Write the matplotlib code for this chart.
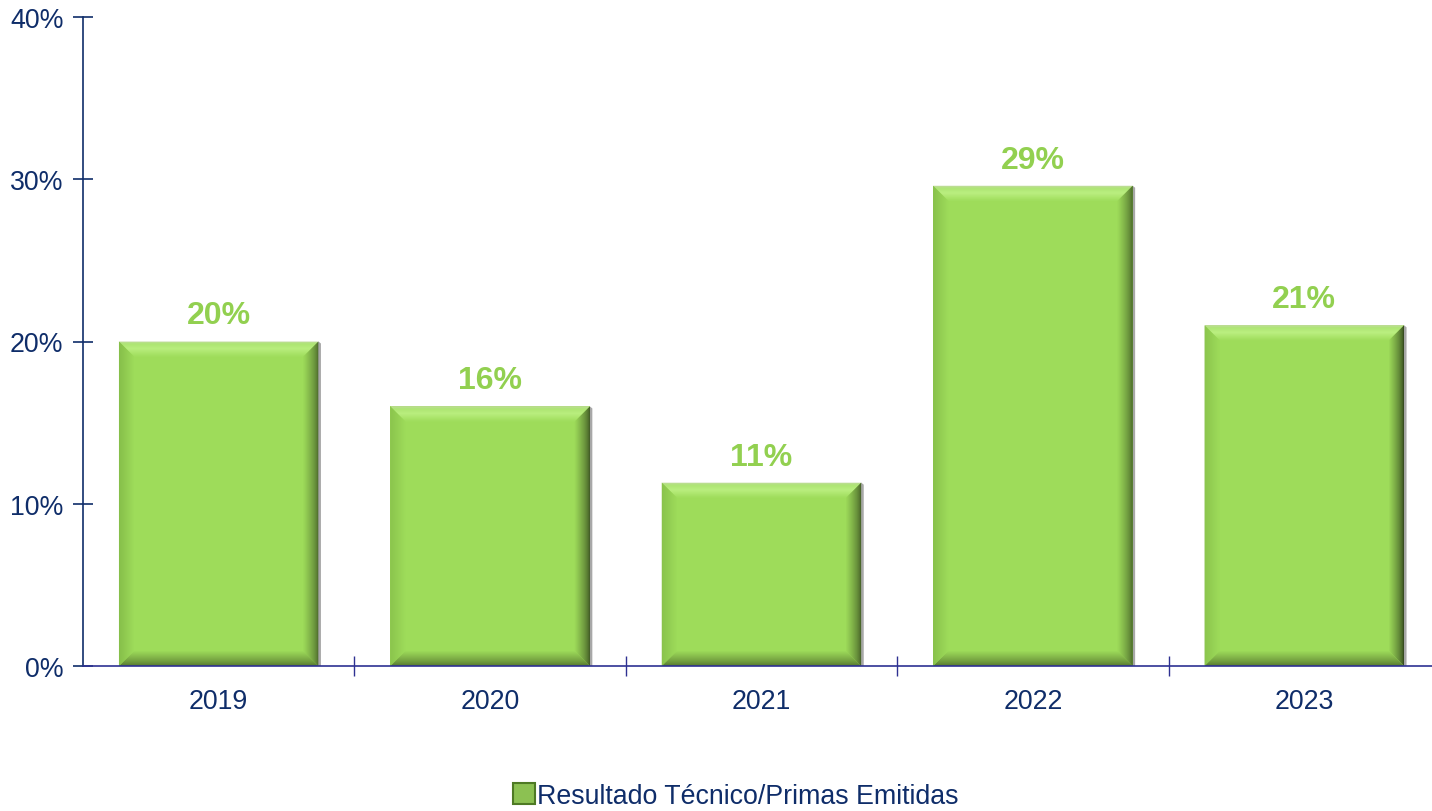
import math
import numpy as np
import matplotlib
matplotlib.use('Agg')
import matplotlib.pyplot as plt
from matplotlib.patches import Polygon, Patch
from matplotlib.ticker import FuncFormatter

plt.rcParams['font.family'] = ['Liberation Sans', 'DejaVu Sans']

# technical result over written premiums, in percent
years = ['2019', '2020', '2021', '2022', '2023']
ratio = [20.0, 16.0, 11.3, 29.6, 21.0]
series_name = 'Resultado Técnico/Primas Emitidas'

navy = '#0F2D69'
axis_blue = '#2E3192'
green = '#9EDC5A'
label_green = '#92D050'

fig = plt.figure(figsize=(14.32, 8.12), dpi=100)
ax = fig.add_axes([83 / 1432, 1 - 667 / 812, 1357 / 1432, 649 / 812])

x = np.arange(len(years))
width = 0.735
bars = ax.bar(x, ratio, width=width, color=green, zorder=2)

ax.set_xlim(-0.5, len(years) - 0.5)
ax.set_ylim(0, 40)


def mix(c1, c2, t):
    a = np.array(matplotlib.colors.to_rgb(c1))
    b = np.array(matplotlib.colors.to_rgb(c2))
    t = min(max(t, 0.0), 1.0)
    return tuple(a + (b - a) * t)


def top_col(t):
    # pale rim, bright ridge, then back to the fill
    if t < 0.15:
        return mix('#C6DDA6', '#B2E87A', t / 0.15)
    if t < 0.45:
        return mix('#B2E87A', '#C2F48A', (t - 0.15) / 0.3)
    return mix('#C2F48A', green, (t - 0.45) / 0.55)


# bevel edges drawn in pixel space, then mapped back into data space
to_data = ax.transData.inverted()


def px(pts):
    return to_data.transform(pts)


bev = 15
steps = 15
for b in bars:
    x0, y0 = ax.transData.transform((b.get_x(), 0))
    x1, y1 = ax.transData.transform((b.get_x() + b.get_width(), b.get_height()))
    # thin grey shadow on the right
    ax.add_patch(Polygon(px([(x1, y0), (x1 + 2.5, y0), (x1 + 2.5, y1 - 2), (x1, y1)]),
                         closed=True, color='#A8A8A8', lw=0, zorder=1))
    for i in range(steps):
        t0 = i / steps
        t1 = (i + 1) / steps
        d0 = bev * t0
        d1 = bev * t1
        # top face
        ax.add_patch(Polygon(px([(x0 + d0, y1 - d0), (x1 - d0, y1 - d0),
                                 (x1 - d1, y1 - d1), (x0 + d1, y1 - d1)]),
                             closed=True, color=top_col(t0), lw=0, zorder=3))
        # right face: dark toward the edge
        c = mix('#34481E', green, t0 ** 0.7)
        ax.add_patch(Polygon(px([(x1 - d0, y1 - d0), (x1 - d0, y0 + d0),
                                 (x1 - d1, y0 + d1), (x1 - d1, y1 - d1)]),
                             closed=True, color=c, lw=0, zorder=3))
        # bottom face
        c = mix('#56782E', green, t0 ** 0.8)
        ax.add_patch(Polygon(px([(x0 + d0, y0 + d0), (x1 - d0, y0 + d0),
                                 (x1 - d1, y0 + d1), (x0 + d1, y0 + d1)]),
                             closed=True, color=c, lw=0, zorder=3))
        # left face
        c = mix('#86BE4A', green, t0)
        ax.add_patch(Polygon(px([(x0 + d0, y0 + d0), (x0 + d0, y1 - d0),
                                 (x0 + d1, y1 - d1), (x0 + d1, y0 + d1)]),
                             closed=True, color=c, lw=0, zorder=3))

# value labels, truncated to whole percent
for xi, v in zip(x, ratio):
    ax.annotate(f'{math.floor(v + 1e-9)}%', (xi, v), xytext=(0, 8), textcoords='offset points',
                ha='center', va='bottom', fontsize=23, fontweight='bold', color=label_green)

# axes styling
for s in ['top', 'right']:
    ax.spines[s].set_visible(False)
ax.spines['left'].set_color(navy)
ax.spines['left'].set_linewidth(1.2)
ax.spines['bottom'].set_color(axis_blue)
ax.spines['bottom'].set_linewidth(1.2)
ax.spines['left'].set_zorder(5)
ax.spines['bottom'].set_zorder(5)

ax.set_yticks([0, 10, 20, 30, 40])
ax.yaxis.set_major_formatter(FuncFormatter(lambda v, p: f'{v:.0f}%'))
ax.tick_params(axis='y', direction='inout', length=14, width=1.2, color=navy,
               labelsize=19.3, labelcolor=navy, pad=7)

ax.set_xticks(x)
ax.set_xticklabels(years)
ax.set_xticks(np.arange(0.5, len(years) - 0.5, 1), minor=True)
ax.tick_params(axis='x', which='major', length=0, labelsize=19.3, labelcolor=navy, pad=16)
ax.tick_params(axis='x', which='minor', direction='inout', length=15, width=1.0, color=axis_blue)

handle = Patch(facecolor='#8CC152', edgecolor='#4E7A24', linewidth=1.5)
fig.legend([handle], [series_name], loc='center', bbox_to_anchor=(736 / 1432, 1 - 797 / 812),
           frameon=False, fontsize=19.3, labelcolor=navy, handlelength=0.8, handleheight=0.8,
           handletextpad=0.1, borderpad=0)

fig.savefig('out.png', dpi=100)
